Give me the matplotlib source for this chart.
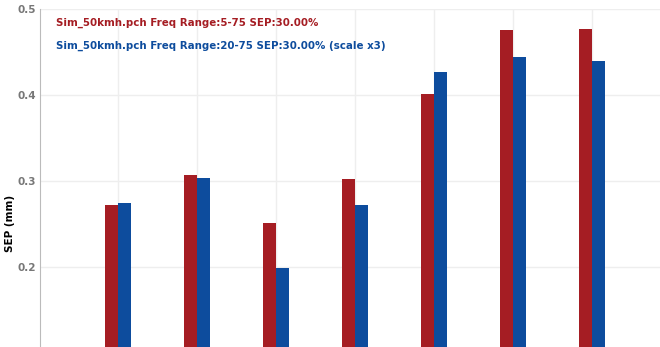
import numpy as np
import matplotlib
matplotlib.use('Agg')
import matplotlib.pyplot as plt

# Dữ liệu (trục x bị cắt, chỉ còn vị trí nhóm)
groups = [1, 2, 3, 4, 5, 6, 7]
sep_5_75 = [0.272, 0.307, 0.251, 0.302, 0.401, 0.476, 0.477]
sep_20_75 = [0.274, 0.304, 0.199, 0.272, 0.427, 0.444, 0.440]
yticks = [0.2, 0.3, 0.4, 0.5]
label_red = 'Sim_50kmh.pch Freq Range:5-75 SEP:30.00%'
label_blue = 'Sim_50kmh.pch Freq Range:20-75 SEP:30.00% (scale x3)'

RED = '#a51d23'
BLUE = '#0d4c9d'

fig = plt.figure(figsize=(6.6, 3.47), dpi=100)
ax = fig.add_axes([40 / 660, 0, 620 / 660, 338 / 347])

x = np.array(groups)
w = 0.16
ax.bar(x - w / 2, sep_5_75, width=w, color=RED, zorder=3)
ax.bar(x + w / 2, sep_20_75, width=w, color=BLUE, zorder=3)

ax.set_xlim(0.013, 7.86)
ax.set_ylim(0.107, 0.5)
ax.set_xticks(groups)
ax.set_yticks(yticks)
ax.set_yticklabels(['0.2', '0.3', '0.4', '0.5'], color='#777777',
                   fontsize=7.5, fontweight='bold')
ax.tick_params(axis='x', length=0, labelbottom=False)
ax.tick_params(axis='y', length=0, pad=3)
ax.grid(True, color='#eeeeee', linewidth=1, zorder=0)

for s in ['top', 'right', 'bottom']:
    ax.spines[s].set_visible(False)
ax.spines['left'].set_color('#bbbbbb')

ax.set_ylabel('SEP (mm)', fontsize=7.5, fontweight='bold')
ax.yaxis.set_label_coords(-0.040, 0.367)

# Chú thích dạng chữ màu
ax.text(16 / 620, (347 - 23) / 338, label_red, transform=ax.transAxes,
        color=RED, fontsize=7.4, fontweight='bold', va='center', ha='left')
ax.text(16 / 620, (347 - 46) / 338, label_blue, transform=ax.transAxes,
        color=BLUE, fontsize=7.4, fontweight='bold', va='center', ha='left')

fig.savefig('out.png', dpi=100)
